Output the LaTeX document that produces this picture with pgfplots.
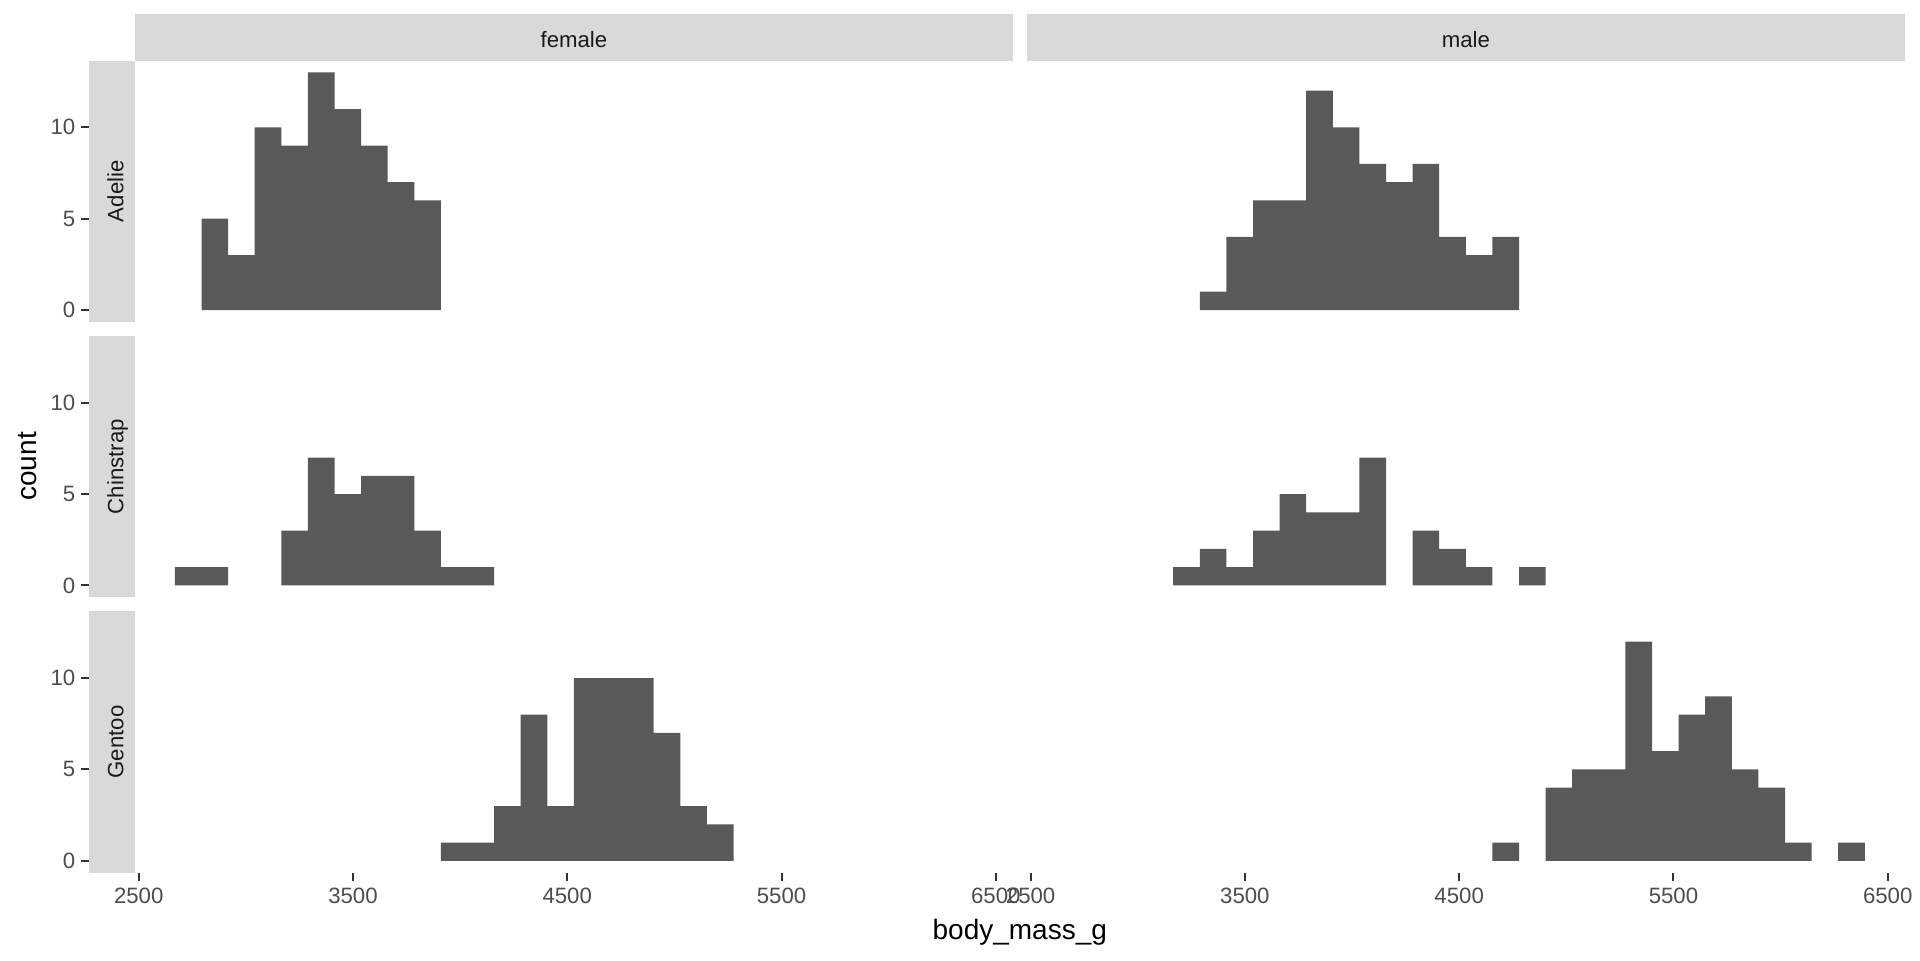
\documentclass[border=0pt]{standalone}
\usepackage{pgfplots}
\pgfplotsset{compat=1.18}
\usepackage{pgfplotstable}
\usepackage{fontspec}
\setmainfont{Liberation Sans}
\definecolor{barc}{HTML}{595959}
\definecolor{stripc}{HTML}{D9D9D9}
\definecolor{striptext}{HTML}{1A1A1A}
\definecolor{tlc}{HTML}{4D4D4D}
\definecolor{tickc}{HTML}{333333}

% bin centres (bin width 124.137931 g), counts
\pgfplotstableread{
x y
2855.172 5
2979.310 3
3103.448 10
3227.586 9
3351.724 13
3475.862 11
3600.000 9
3724.138 7
3848.276 6
}\adeliefemale
\pgfplotstableread{
x y
3351.724 1
3475.862 4
3600.000 6
3724.138 6
3848.276 12
3972.414 10
4096.552 8
4220.690 7
4344.828 8
4468.966 4
4593.103 3
4717.241 4
}\adeliemale
\pgfplotstableread{
x y
2731.034 1
2855.172 1
3227.586 3
3351.724 7
3475.862 5
3600.000 6
3724.138 6
3848.276 3
3972.414 1
4096.552 1
}\chinfemale
\pgfplotstableread{
x y
3227.586 1
3351.724 2
3475.862 1
3600.000 3
3724.138 5
3848.276 4
3972.414 4
4096.552 7
4344.828 3
4468.966 2
4593.103 1
4841.379 1
}\chinmale
\pgfplotstableread{
x y
3972.414 1
4096.552 1
4220.690 3
4344.828 8
4468.966 3
4593.103 10
4717.241 10
4841.379 10
4965.517 7
5089.655 3
5213.793 2
}\gentfemale
\pgfplotstableread{
x y
4717.241 1
4965.517 4
5089.655 5
5213.793 5
5337.931 12
5462.069 6
5586.207 8
5710.345 9
5834.483 5
5958.621 4
6082.759 1
6331.034 1
}\gentmale

\pgfplotsset{
  panel/.style={
    scale only axis, width=438.9pt, height=130.65pt,
    xmin=2482.759, xmax=6579.310, ymin=-0.65, ymax=13.65,
    axis line style={draw=none},
    tick align=outside, major tick length=4pt, tickpos=left,
    tick style={color=tickc, line width=1pt},
    xtick=\empty, ytick=\empty, clip=false,
    /pgf/number format/assume math mode=true,
    tick label style={font=\fontsize{11.1}{13}\selectfont, text=tlc},
    anchor=south west,
  },
  leftcol/.style={
    ytick={0,5,10}, yticklabels={0,5,10},
    ytick style={draw=none},
    yticklabel style={xshift=-22.3pt},
  },
  bottomrow/.style={
    xtick={2500,3500,4500,5500,6500},
    xticklabels={2500,3500,4500,5500,6500},
  },
  bars/.style={ybar, bar width=124.137931, fill=barc, draw=none},
}

\begin{document}
\begin{tikzpicture}
\useasboundingbox (0,0) rectangle (960pt,480pt);
\fill[white] (0,0) rectangle (960pt,480pt);

% Row 1: Adelie
\begin{axis}[panel, leftcol, at={(67.5pt,319.05pt)}]
\addplot[bars] table {\adeliefemale};
\pgfplotsinvokeforeach{0,5,10}{\draw[tickc, line width=1pt] ([xshift=-23pt]axis cs:2482.759,#1) -- ([xshift=-27pt]axis cs:2482.759,#1);}
\end{axis}
\begin{axis}[panel, at={(513.45pt,319.05pt)}]
\addplot[bars] table {\adeliemale};
\end{axis}

% Row 2: Chinstrap
\begin{axis}[panel, leftcol, at={(67.5pt,181.35pt)}]
\addplot[bars] table {\chinfemale};
\pgfplotsinvokeforeach{0,5,10}{\draw[tickc, line width=1pt] ([xshift=-23pt]axis cs:2482.759,#1) -- ([xshift=-27pt]axis cs:2482.759,#1);}
\end{axis}
\begin{axis}[panel, at={(513.45pt,181.35pt)}]
\addplot[bars] table {\chinmale};
\end{axis}

% Row 3: Gentoo
\begin{axis}[panel, leftcol, bottomrow, at={(67.5pt,43.65pt)}]
\addplot[bars] table {\gentfemale};
\pgfplotsinvokeforeach{0,5,10}{\draw[tickc, line width=1pt] ([xshift=-23pt]axis cs:2482.759,#1) -- ([xshift=-27pt]axis cs:2482.759,#1);}
\end{axis}
\begin{axis}[panel, bottomrow, at={(513.45pt,43.65pt)}]
\addplot[bars] table {\gentmale};
\end{axis}

% column strips
\fill[stripc] (67.5pt,449.7pt) rectangle (506.4pt,473pt);
\fill[stripc] (513.45pt,449.7pt) rectangle (952.35pt,473pt);
\node[anchor=base, text=striptext, font=\fontsize{11.1}{13}\selectfont] at (286.95pt,456.35pt) {female};
\node[anchor=base, text=striptext, font=\fontsize{11.1}{13}\selectfont] at (732.9pt,456.35pt) {male};

% row strips
\fill[stripc] (44.5pt,319.05pt) rectangle (67.5pt,449.7pt);
\fill[stripc] (44.5pt,181.35pt) rectangle (67.5pt,312.0pt);
\fill[stripc] (44.5pt,43.65pt) rectangle (67.5pt,174.3pt);
\node[rotate=90, anchor=base, text=striptext, font=\fontsize{11.1}{13}\selectfont] at (61.65pt,384.375pt) {Adelie};
\node[rotate=90, anchor=base, text=striptext, font=\fontsize{11.1}{13}\selectfont] at (61.65pt,246.675pt) {Chinstrap};
\node[rotate=90, anchor=base, text=striptext, font=\fontsize{11.1}{13}\selectfont] at (61.65pt,108.975pt) {Gentoo};

% axis titles
\node[rotate=90, anchor=base, font=\fontsize{14}{16}\selectfont] at (18.35pt,246.8pt) {count};
\node[anchor=base, font=\fontsize{14}{16}\selectfont] at (509.9pt,10.35pt) {body\_mass\_g};
\end{tikzpicture}
\end{document}
